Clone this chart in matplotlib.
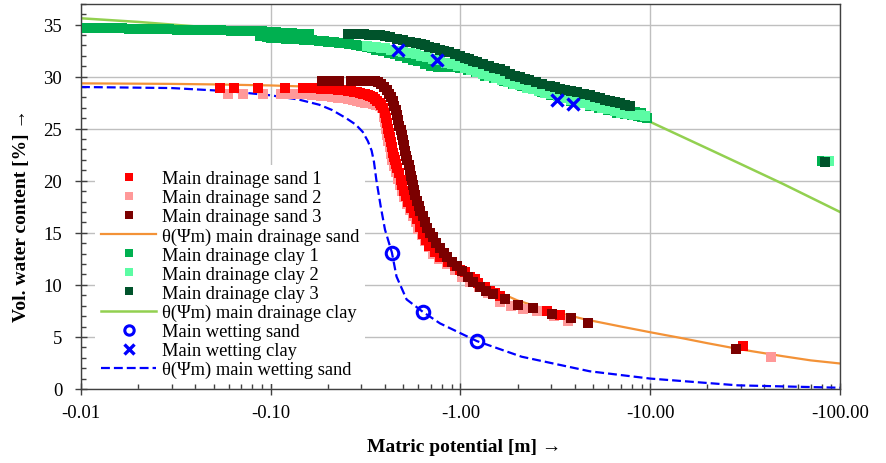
import numpy as np
import matplotlib
matplotlib.use("Agg")
import matplotlib.pyplot as plt
from matplotlib.ticker import FuncFormatter, MultipleLocator, LogLocator, NullFormatter

plt.rcParams['font.family'] = ['Liberation Serif', 'DejaVu Serif']

# Water retention data, (|matric potential| [m], vol. water content [%])
# --- drainage, sand samples
sand1 = np.array([
    (0.054, 28.9), (0.064, 28.9), (0.086, 28.9), (0.119, 28.9), (0.148, 28.9),
    (0.167, 28.9), (0.175, 28.9), (0.185, 28.85), (0.195, 28.85), (0.205, 28.8),
    (0.215, 28.8), (0.225, 28.75), (0.235, 28.7), (0.245, 28.7), (0.255, 28.65),
    (0.265, 28.6), (0.275, 28.55), (0.285, 28.5), (0.295, 28.45), (0.305, 28.35),
    (0.315, 28.3), (0.325, 28.2), (0.335, 28.1), (0.345, 28.0), (0.355, 27.85),
    (0.365, 27.7), (0.375, 27.5), (0.383, 27.3), (0.39, 27.0), (0.400, 26.5),
    (0.405, 26.0), (0.410, 25.5), (0.415, 25.0), (0.420, 24.6), (0.425, 24.2),
    (0.430, 23.7), (0.436, 23.2), (0.441, 22.7), (0.446, 22.3), (0.451, 22.0),
    (0.457, 21.6), (0.462, 21.2), (0.474, 20.7), (0.485, 20.1), (0.491, 19.6),
    (0.503, 19.0), (0.516, 18.5), (0.528, 18.0), (0.547, 17.4), (0.571, 16.9),
    (0.591, 16.3), (0.612, 15.6), (0.634, 14.9), (0.658, 14.3), (0.683, 13.7),
    (0.73, 13.2), (0.78, 12.7), (0.857, 12.2), (0.94, 11.8), (1.0, 11.4),
    (1.06, 11.2), (1.12, 10.8), (1.19, 10.6), (1.24, 10.2), (1.35, 9.8),
    (1.43, 9.4), (1.52, 9.2), (1.61, 8.9), (2.85, 7.5), (3.34, 7.1),
    (30.8, 4.1),
])
sand2 = np.array([
    (0.0595, 28.3), (0.0712, 28.3), (0.091, 28.3), (0.113, 28.3), (0.126, 28.35),
    (0.135, 28.35), (0.145, 28.3), (0.155, 28.3), (0.165, 28.25), (0.175, 28.2),
    (0.185, 28.15), (0.195, 28.1), (0.21, 28.0), (0.225, 27.95), (0.24, 27.9),
    (0.255, 27.85), (0.27, 27.75), (0.285, 27.7), (0.3, 27.6), (0.315, 27.5),
    (0.33, 27.45), (0.345, 27.4), (0.36, 27.3), (0.375, 27.2), (0.385, 27.0),
    (0.393, 26.6), (0.397, 26.1), (0.40, 25.6), (0.405, 25.0), (0.41, 24.4),
    (0.416, 23.8), (0.423, 23.2), (0.43, 22.6), (0.437, 22.0), (0.445, 21.4),
    (0.455, 20.8), (0.466, 20.2), (0.478, 19.6), (0.49, 19.0), (0.503, 18.4),
    (0.52, 17.8), (0.54, 17.2), (0.56, 16.6), (0.58, 16.0), (0.6, 15.4),
    (0.625, 14.8), (0.65, 14.2), (0.68, 13.6), (0.72, 13.0), (0.77, 12.5),
    (0.85, 12.0), (0.93, 11.4), (1.02, 10.8), (1.12, 10.3), (1.25, 9.8),
    (1.4, 9.2), (1.61, 8.4), (1.85, 8.0), (2.13, 7.7), (2.53, 7.5),
    (3.1, 7.0), (3.7, 6.5), (43.5, 3.1),
])
sand3 = np.array([
    (0.186, 29.6), (0.197, 29.6), (0.208, 29.6), (0.219, 29.6), (0.23, 29.6),
    (0.265, 29.6), (0.276, 29.6), (0.305, 29.6), (0.317, 29.6), (0.33, 29.6),
    (0.343, 29.6), (0.356, 29.55), (0.368, 29.5), (0.38, 29.3), (0.395, 29.0),
    (0.408, 28.7), (0.42, 28.3), (0.43, 28.0), (0.44, 27.7), (0.447, 27.2),
    (0.455, 26.8), (0.462, 26.3), (0.469, 25.8), (0.477, 25.3), (0.485, 24.9),
    (0.49, 24.4), (0.497, 23.9), (0.503, 23.4), (0.509, 22.9), (0.517, 22.4),
    (0.525, 22.0), (0.533, 21.5), (0.541, 21.0), (0.548, 20.5), (0.555, 20.1),
    (0.562, 19.6), (0.568, 19.1), (0.578, 18.6), (0.59, 18.1), (0.602, 17.6),
    (0.615, 17.1), (0.634, 16.6), (0.65, 16.0), (0.67, 15.5), (0.693, 15.0),
    (0.716, 14.6), (0.745, 14.0), (0.78, 13.5), (0.815, 13.1), (0.848, 12.7),
    (0.9, 12.2), (0.957, 11.8), (1.02, 11.3), (1.094, 10.8), (1.17, 10.3),
    (1.265, 9.8), (1.37, 9.4), (1.48, 9.1), (1.71, 8.6), (2.0, 8.1),
    (2.41, 7.8), (3.03, 7.2), (3.82, 6.8), (4.69, 6.3), (28.3, 3.8),
])
# --- drainage, clay samples
clay1 = np.array([
    (0.0108, 34.7), (0.0118, 34.7), (0.0128, 34.7), (0.0138, 34.7), (0.0152, 34.65),
    (0.0165, 34.65), (0.018, 34.6), (0.0195, 34.6), (0.021, 34.6), (0.023, 34.6),
    (0.025, 34.55), (0.027, 34.55), (0.029, 34.55), (0.032, 34.5), (0.035, 34.5),
    (0.038, 34.5), (0.041, 34.5), (0.044, 34.45), (0.049, 34.45), (0.055, 34.45),
    (0.062, 34.4), (0.070, 34.4), (0.079, 34.4), (0.085, 34.35), (0.09, 34.35),
    (0.095, 34.3), (0.1, 34.3), (0.106, 34.25), (0.112, 34.2), (0.118, 34.2),
    (0.125, 34.2), (0.13, 34.15), (0.14, 34.1), (0.15, 34.1), (0.16, 34.05),
    (0.088, 33.9), (0.095, 33.8), (0.1, 33.75), (0.11, 33.7), (0.12, 33.65),
    (0.13, 33.6), (0.14, 33.6), (0.15, 33.55), (0.165, 33.5), (0.18, 33.45),
    (0.19, 33.4), (0.2, 33.35), (0.215, 33.3), (0.23, 33.25), (0.245, 33.2),
    (0.26, 33.1), (0.28, 33.0), (0.3, 32.9), (0.32, 32.8), (0.34, 32.7),
    (0.36, 32.6), (0.39, 32.45), (0.42, 32.3), (0.45, 32.15), (0.48, 32.0),
    (0.52, 31.8), (0.56, 31.6), (0.6, 31.45), (0.65, 31.25), (0.7, 31.05),
    (0.76, 30.95), (0.82, 30.9), (0.9, 30.9), (1.0, 30.85), (1.1, 30.6),
    (1.2, 30.4), (1.35, 30.1), (1.5, 29.85), (1.7, 29.55), (1.9, 29.3),
    (2.1, 29.1), (2.4, 28.8), (2.7, 28.5), (3.0, 28.25), (3.4, 27.95),
    (3.8, 27.7), (4.3, 27.45), (4.8, 27.2), (5.4, 27.0), (6.0, 26.75),
    (6.7, 26.55), (7.4, 26.4), (8.0, 26.3), (8.6, 26.2), (9.1, 26.1),
    (9.6, 26.05), (8.3, 26.6), (8.9, 26.5), (80.0, 21.9),
])
clay2 = np.array([
    (0.32, 32.9), (0.34, 32.85), (0.36, 32.8), (0.38, 32.75), (0.40, 32.7),
    (0.43, 32.6), (0.46, 32.5), (0.5, 32.4), (0.54, 32.3), (0.58, 32.15),
    (0.62, 32.0), (0.67, 31.85), (0.72, 31.7), (0.78, 31.55), (0.84, 31.35),
    (0.9, 31.2), (0.97, 31.0), (1.05, 30.85), (1.13, 30.65), (1.22, 30.45),
    (1.32, 30.25), (1.42, 30.05), (1.53, 29.85), (1.65, 29.65), (1.78, 29.5),
    (1.92, 29.3), (2.07, 29.15), (2.23, 28.95), (2.4, 28.8), (2.6, 28.6),
    (2.8, 28.45), (3.0, 28.3), (3.25, 28.1), (3.5, 27.95), (3.8, 27.8),
    (4.1, 27.6), (4.4, 27.45), (4.8, 27.3), (5.2, 27.15), (5.6, 27.0),
    (6.0, 26.85), (6.5, 26.7), (7.0, 26.55), (7.6, 26.4), (8.2, 26.3),
    (8.8, 26.3), (9.4, 26.2), (87.0, 21.9),
])
clay3 = np.array([
    (0.255, 34.1), (0.267, 34.1), (0.28, 34.1), (0.294, 34.05), (0.31, 34.05),
    (0.33, 34.0), (0.35, 34.0), (0.375, 33.95), (0.40, 33.9), (0.424, 33.78),
    (0.46, 33.6), (0.5, 33.5), (0.54, 33.35), (0.58, 33.25), (0.62, 33.1),
    (0.65, 33.0), (0.686, 32.85), (0.73, 32.7), (0.78, 32.6), (0.82, 32.45),
    (0.87, 32.35), (0.93, 32.15), (0.99, 32.0), (1.05, 31.8), (1.11, 31.65),
    (1.17, 31.5), (1.22, 31.4), (1.32, 31.2), (1.42, 31.0), (1.51, 30.85),
    (1.61, 30.7), (1.71, 30.5), (1.82, 30.26), (1.93, 30.1), (2.05, 29.95),
    (2.18, 29.8), (2.31, 29.65), (2.5, 29.45), (2.7, 29.3), (2.95, 29.1),
    (3.14, 29.0), (3.34, 28.85), (3.55, 28.75), (3.8, 28.6), (4.1, 28.5),
    (4.45, 28.35), (4.81, 28.2), (5.1, 28.05), (5.44, 27.9), (5.78, 27.8),
    (6.15, 27.67), (6.55, 27.55), (6.95, 27.45), (7.4, 27.3), (7.86, 27.2),
    (83.0, 21.8),
])
# --- wetting measurements
wet_sand = np.array([(0.435, 13.1), (0.634, 7.4), (1.22, 4.6)])
wet_clay = np.array([(0.468, 32.6), (0.751, 31.6), (3.22, 27.8), (3.91, 27.4)])

# Fitted retention curves theta(psi_m)
fit_sand = np.array([
    (0.01, 29.35), (0.03, 29.3), (0.05, 29.25), (0.1, 29.15), (0.15, 29.05),
    (0.2, 28.95), (0.25, 28.75), (0.3, 28.45), (0.33, 28.2), (0.36, 27.9),
    (0.38, 27.2), (0.40, 26.3), (0.42, 25.2), (0.44, 24.0), (0.466, 21.8),
    (0.49, 20.2), (0.52, 18.6), (0.56, 17.0), (0.6, 15.9), (0.65, 14.9),
    (0.72, 13.8), (0.8, 12.8), (0.9, 11.9), (1.0, 11.3), (1.25, 10.3),
    (1.5, 9.5), (2.0, 8.5), (3.0, 7.5), (4.5, 6.7), (7.0, 6.0),
    (10.0, 5.45), (15.0, 4.85), (20.0, 4.4), (30.0, 3.8), (50.0, 3.15),
    (70.0, 2.75), (100.0, 2.45),
])
fit_clay = np.array([
    (0.01, 35.6), (0.02, 35.25), (0.03, 35.0), (0.045, 34.75), (0.07, 34.5),
    (0.1, 34.25), (0.2, 33.6), (0.3, 33.1), (0.5, 32.3), (0.7, 31.6),
    (1.0, 31.0), (2.0, 29.5), (3.0, 28.6), (5.0, 27.4), (10.0, 25.65),
    (20.0, 23.1), (30.0, 21.6), (50.0, 19.7), (100.0, 17.0),
])
fit_wet_sand = np.array([
    (0.01, 29.0), (0.03, 28.9), (0.06, 28.6), (0.1, 28.2), (0.14, 27.8),
    (0.18, 27.3), (0.21, 26.8), (0.25, 26.0), (0.28, 25.4), (0.305, 24.7),
    (0.325, 23.8), (0.34, 22.9), (0.35, 21.8), (0.36, 20.1), (0.38, 17.5),
    (0.40, 15.3), (0.435, 13.1), (0.46, 10.8), (0.52, 8.6), (0.634, 7.4),
    (0.78, 6.3), (1.22, 4.6), (2.1, 3.1), (4.8, 1.7), (10.0, 1.0),
    (29.0, 0.35), (100.0, 0.12),
])

fig = plt.figure(figsize=(8.87, 4.64), dpi=100)
ax = fig.add_axes([81 / 887, 74 / 464, 759 / 887, 385.3 / 464])

sq = dict(marker='s', linestyle='none', markersize=7, markeredgewidth=0)

h_fs, = ax.plot(fit_sand[:, 0], fit_sand[:, 1], color='#F39237', lw=1.6, zorder=2)
h_fc, = ax.plot(fit_clay[:, 0], fit_clay[:, 1], color='#92D050', lw=1.8, zorder=2)
h_fw, = ax.plot(fit_wet_sand[:, 0], fit_wet_sand[:, 1], color='#0000FF', lw=1.6,
                linestyle=(0, (4, 1.8)), zorder=2)

h_s2, = ax.plot(sand2[:, 0], sand2[:, 1], color='#FF9999', zorder=3, **sq)
h_s1, = ax.plot(sand1[:, 0], sand1[:, 1], color='#FF0000', zorder=4, **sq)
h_s3, = ax.plot(sand3[:, 0], sand3[:, 1], color='#7B0000', zorder=5, **sq)
h_c1, = ax.plot(clay1[:, 0], clay1[:, 1], color='#00B050', zorder=3, **sq)
h_c2, = ax.plot(clay2[:, 0], clay2[:, 1], color='#5CFCA4', zorder=4, **sq)
h_c3, = ax.plot(clay3[:, 0], clay3[:, 1], color='#00532B', zorder=5, **sq)

h_ws, = ax.plot(wet_sand[:, 0], wet_sand[:, 1], linestyle='none', marker='o',
                markersize=9, markerfacecolor='none', markeredgecolor='#0000FF',
                markeredgewidth=2.2, zorder=6)
h_wc, = ax.plot(wet_clay[:, 0], wet_clay[:, 1], linestyle='none', marker='x',
                markersize=9, color='#0000FF', markeredgewidth=2.4, zorder=6)

# axes, ticks and grid
ax.set_xscale('log')
ax.set_xlim(0.01, 100)
ax.set_ylim(0, 37)
ax.xaxis.set_major_locator(LogLocator(base=10))
ax.xaxis.set_minor_locator(LogLocator(base=10, subs=np.arange(2, 10)))
ax.xaxis.set_minor_formatter(NullFormatter())
ax.xaxis.set_major_formatter(FuncFormatter(lambda v, pos: f"-{v:.2f}"))
ax.yaxis.set_major_locator(MultipleLocator(5))
ax.yaxis.set_minor_locator(MultipleLocator(1))

ax.tick_params(which='major', direction='inout', length=9, width=1, color='#404040')
ax.tick_params(which='minor', direction='in', length=3.5, width=1, color='#404040')
ax.tick_params(axis='x', which='major', labelsize=13.5, pad=6)
ax.tick_params(axis='y', which='major', labelsize=13.5, pad=9)
ax.grid(True, which='major', color='#BFBFBF', lw=1)
ax.set_axisbelow(True)
for s in ax.spines.values():
    s.set_color('#404040')
    s.set_linewidth(1)

ax.set_xlabel('Matric potential [m] →', fontsize=14, fontweight='bold')
ax.set_ylabel('Vol. water content [%] →', fontsize=14, fontweight='bold')
ax.xaxis.set_label_coords(0.505, -0.148)
ax.xaxis.label.set_va('center')
ax.yaxis.set_label_coords(-0.078, 0.454)
ax.yaxis.label.set_va('center')

handles = [h_s1, h_s2, h_s3, h_fs, h_c1, h_c2, h_c3, h_fc, h_ws, h_wc, h_fw]
labels = ['Main drainage sand 1', 'Main drainage sand 2', 'Main drainage sand 3',
          'θ(Ψm) main drainage sand', 'Main drainage clay 1', 'Main drainage clay 2',
          'Main drainage clay 3', 'θ(Ψm) main drainage clay', 'Main wetting sand',
          'Main wetting clay', 'θ(Ψm) main wetting sand']
ax.legend(handles, labels, loc='lower left', bbox_to_anchor=(0.019, 0.013),
          fontsize=13.3, frameon=True, fancybox=False, edgecolor='none',
          facecolor='white', framealpha=1, borderpad=0.3, labelspacing=0.11,
          handlelength=3.0, handletextpad=0.3, borderaxespad=0, markerscale=0.75)

fig.savefig('out.png', dpi=100)
